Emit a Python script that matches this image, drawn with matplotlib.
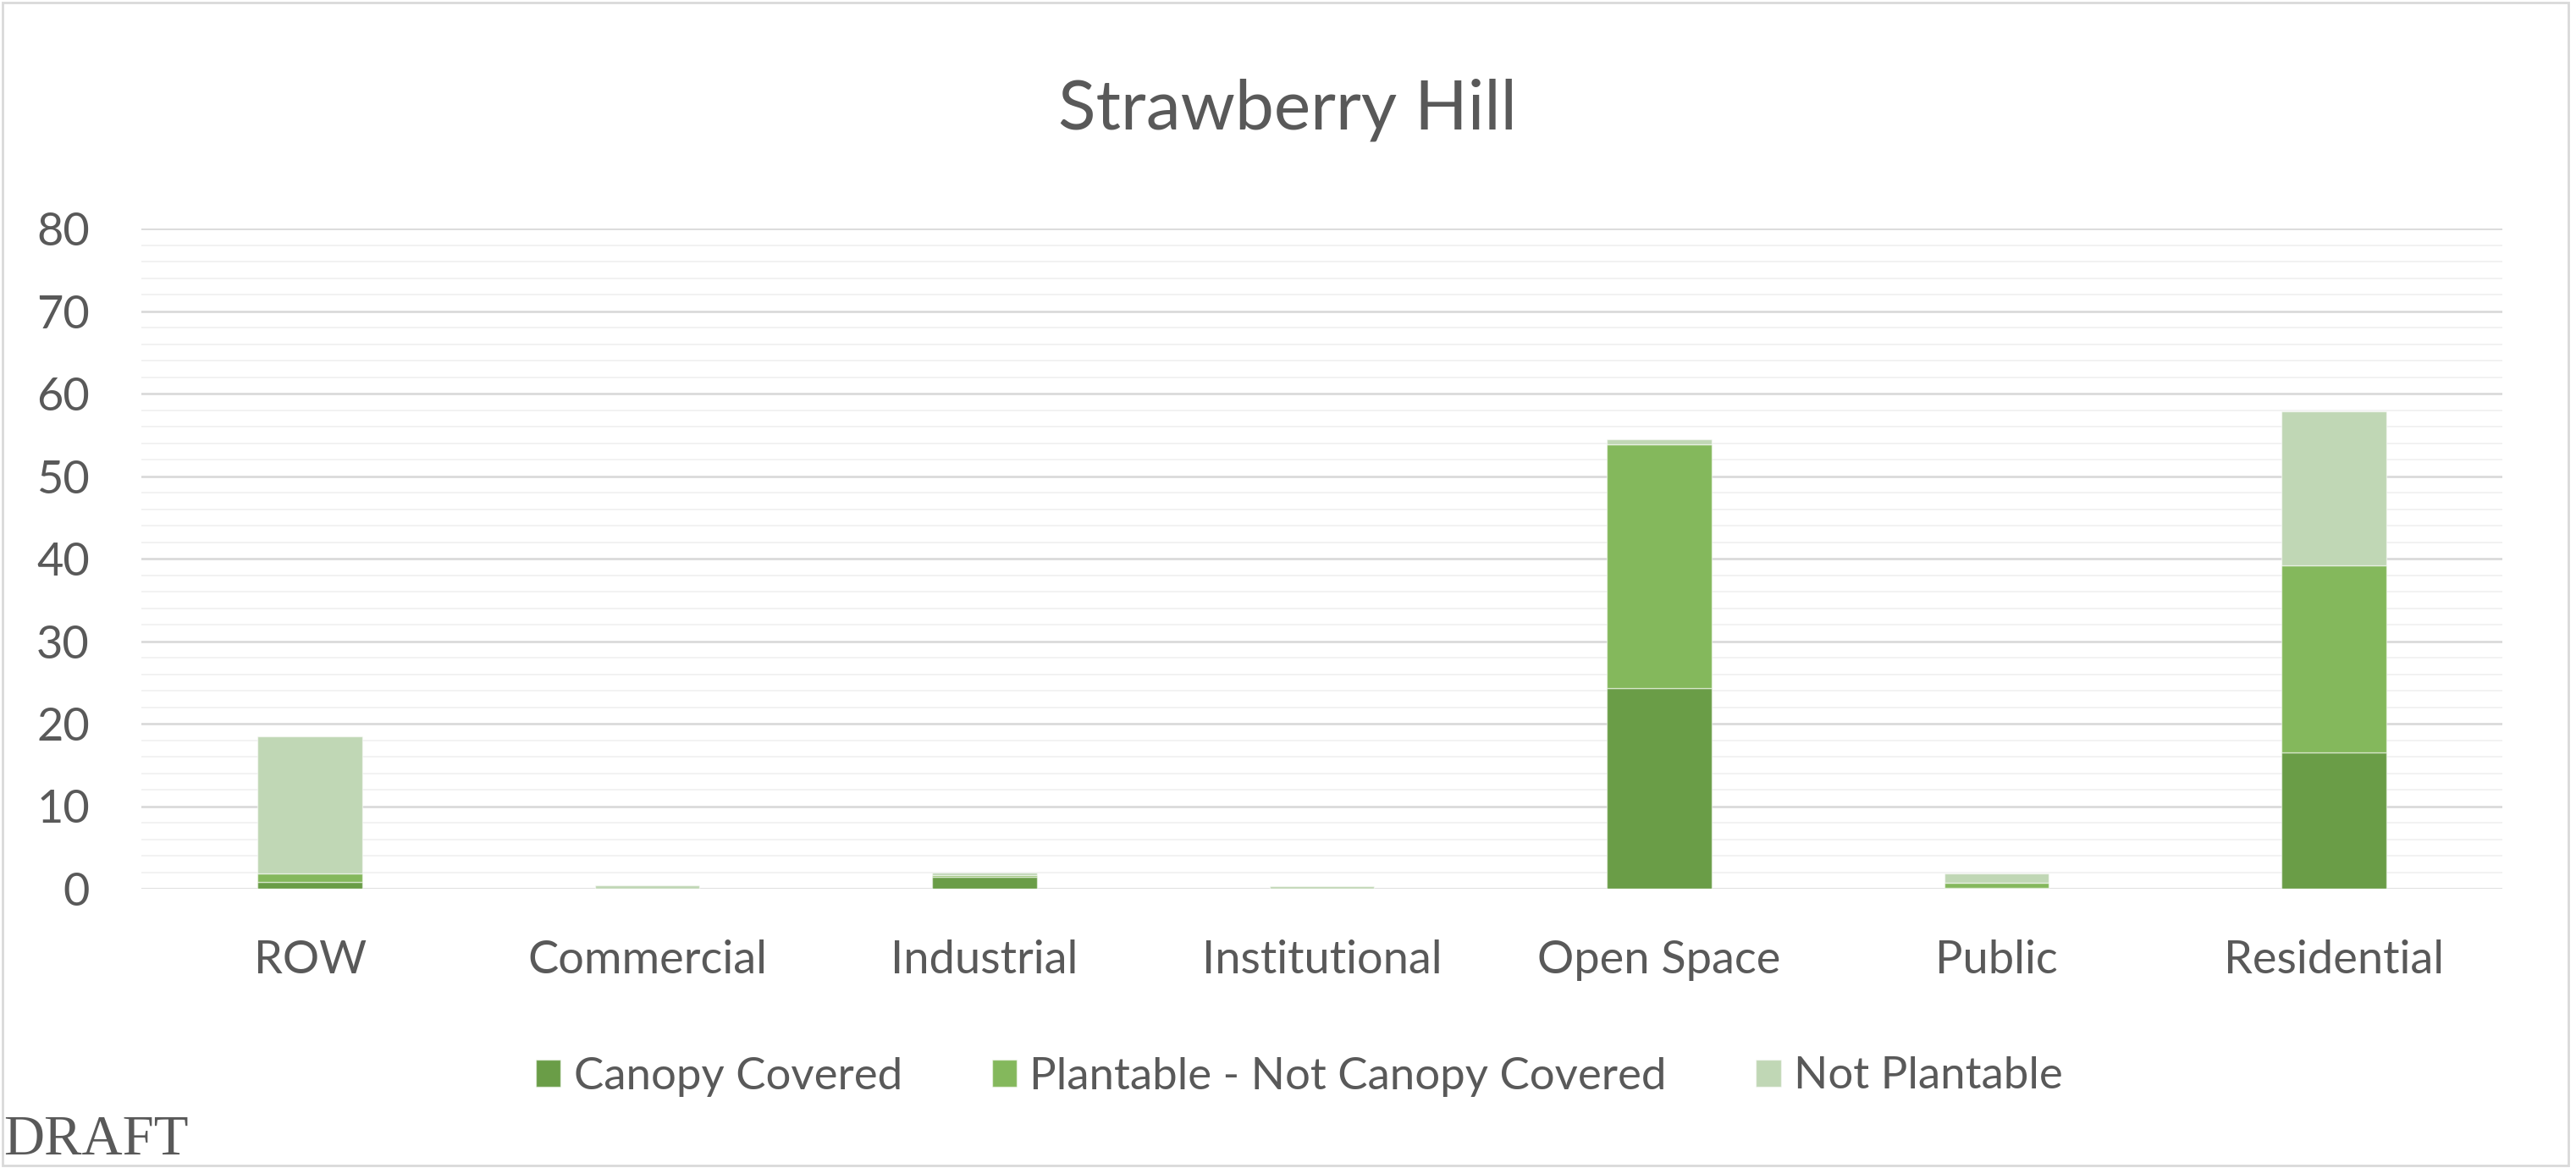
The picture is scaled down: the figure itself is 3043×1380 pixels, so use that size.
import numpy as np
import matplotlib
matplotlib.use('Agg')
import matplotlib.pyplot as plt
from matplotlib.patches import Rectangle, Patch

plt.rcParams['font.family'] = ['Lato', 'DejaVu Sans']

categories = ['ROW', 'Commercial', 'Industrial', 'Institutional',
              'Open Space', 'Public', 'Residential']
canopy = [0.8, 0.0, 1.4, 0.0, 24.3, 0.1, 16.5]
plantable = [1.0, 0.0, 0.2, 0.0, 29.5, 0.65, 22.65]
not_plantable = [16.7, 0.4, 0.4, 0.3, 0.7, 1.05, 18.65]
series_names = ['Canopy Covered', 'Plantable - Not Canopy Covered',
                'Not Plantable']
colors = ['#6a9d47', '#84b85c', '#c0d7b5']

W, H = 3043, 1380
text_col = '#595959'

fig = plt.figure(figsize=(W / 100, H / 100), dpi=100)
ax = fig.add_axes([167 / W, 1 - 1050 / H, (2956 - 167) / W, (1050 - 270) / H])

x = np.arange(len(categories))
bottom = np.zeros(len(categories))
handles = []
for vals, name, c in zip([canopy, plantable, not_plantable], series_names, colors):
    ax.bar(x, vals, width=0.31, bottom=bottom, color=c,
           edgecolor=(1, 1, 1, 0.5), linewidth=1, zorder=3)
    bottom += np.array(vals)
    handles.append(Patch(facecolor=c, edgecolor=(1, 1, 1, 0.5), label=name))

ax.set_xlim(-0.5, len(categories) - 0.5)
ax.set_ylim(0, 80)
ax.set_yticks(np.arange(0, 81, 10))
ax.set_yticks(np.arange(0, 81, 2), minor=True)
ax.grid(axis='y', which='major', color='#d9d9d9', linewidth=1.9, zorder=0)
ax.grid(axis='y', which='minor', color='#f2f2f2', linewidth=1.4, zorder=0)
ax.set_xticks(x)
ax.set_xticklabels(categories)
for s in ax.spines.values():
    s.set_visible(False)
ax.tick_params(axis='both', which='both', length=0, labelsize=39,
               labelcolor=text_col)
ax.tick_params(axis='x', pad=43)
ax.tick_params(axis='y', pad=44)

fig.text(1521 / W, 1 - 130 / H, 'Strawberry Hill', ha='center', va='center',
         fontsize=59, color=text_col)

fig.legend(handles=handles, loc='center', ncol=3,
           bbox_to_anchor=(1535 / W, 1 - 1272 / H), frameon=False,
           fontsize=38, labelcolor=text_col, handlelength=0.55,
           handleheight=0.55, handletextpad=0.3, columnspacing=2.0)

fig.text(4 / W, 1 - 1347 / H, 'DRAFT', ha='left', va='center',
         fontsize=48, color=text_col, family='Liberation Serif')

fig.patches.append(Rectangle((3 / W, 3 / H), (W - 12) / W, (H - 6) / H,
                             transform=fig.transFigure, fill=False,
                             edgecolor='#d9d9d9', linewidth=2))

fig.savefig('out.png', dpi=100)
